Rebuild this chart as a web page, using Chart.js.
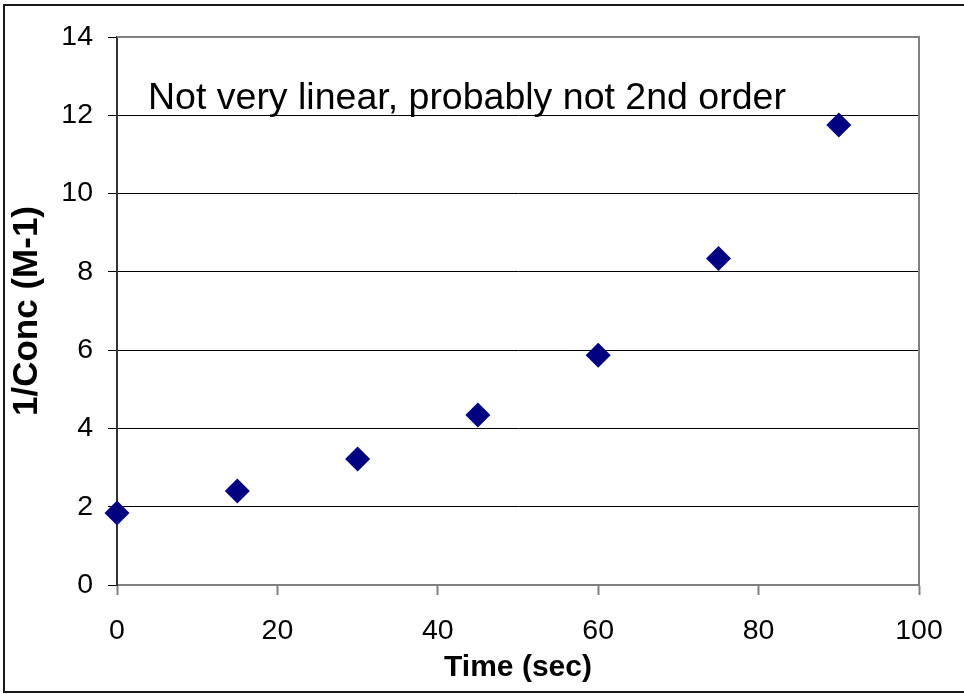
<!DOCTYPE html>
<html>
<head>
<meta charset="utf-8">
<script src="https://cdn.jsdelivr.net/npm/chart.js@4/dist/chart.umd.min.js"></script>
<style>
  html, body { margin: 0; padding: 0; background: #fff; }
  #wrap { width: 964px; height: 694px; }
</style>
</head>
<body>
<div id="wrap"><canvas id="chart" width="964" height="694"></canvas></div>
<script>
const times = [0, 15, 30, 45, 60, 75, 90];
const invConc = [1.84, 2.40, 3.22, 4.34, 5.87, 8.34, 11.75];
const xTitle = "Time (sec)";
const yTitle = "1/Conc (M-1)";
const note = "Not very linear, probably not 2nd order";

const FONT = "'Liberation Sans', Arial, sans-serif";

// white page, outer frame, gray plot border and the note text
const frame = {
  id: "frame",
  beforeDraw(chart) {
    const ctx = chart.ctx;
    ctx.save();
    ctx.fillStyle = "#fff";
    ctx.fillRect(0, 0, chart.width, chart.height);
    ctx.strokeStyle = "#1a1a1a";
    ctx.lineWidth = 2;
    ctx.strokeRect(4, 5, chart.width, 687);
    ctx.restore();
  },
  beforeDatasetsDraw(chart) {
    const { ctx, chartArea: a } = chart;
    ctx.save();
    ctx.strokeStyle = "#808080";
    ctx.lineWidth = 2;
    ctx.beginPath();
    ctx.moveTo(a.left, a.top);
    ctx.lineTo(a.right, a.top);
    ctx.lineTo(a.right, a.bottom);
    ctx.stroke();
    ctx.fillStyle = "#000";
    ctx.font = "37.5px " + FONT;
    ctx.textBaseline = "alphabetic";
    ctx.fillText(note, 148, 109);
    ctx.restore();
  }
};

new Chart(document.getElementById("chart"), {
  type: "scatter",
  data: {
    datasets: [{
      data: times.map((t, i) => ({ x: t, y: invConc[i] })),
      pointStyle: "rectRot",
      radius: 12.5,
      hoverRadius: 12.5,
      backgroundColor: "#000080",
      borderColor: "#000080",
      borderWidth: 0,
      clip: false
    }]
  },
  options: {
    responsive: false,
    animation: false,
    layout: { padding: { top: 37, right: 45, left: 0, bottom: 0 } },
    plugins: {
      legend: { display: false },
      tooltip: { enabled: false }
    },
    scales: {
      x: {
        type: "linear",
        min: 0,
        max: 100,
        afterFit: (s) => { s.height = 109; },
        ticks: {
          stepSize: 20,
          color: "#000",
          padding: 19,
          font: { family: FONT, size: 28.5 }
        },
        grid: {
          drawOnChartArea: false,
          drawTicks: true,
          tickLength: 10,
          tickColor: "#808080",
          tickWidth: 2
        },
        border: { color: "#808080", width: 2 },
        title: {
          display: true,
          text: xTitle,
          color: "#000",
          padding: { top: 0, bottom: 8 },
          font: { family: FONT, size: 30, weight: "bold" }
        }
      },
      y: {
        min: 0,
        max: 14,
        afterFit: (s) => { s.width = 117; },
        ticks: {
          stepSize: 2,
          color: "#000",
          padding: 15,
          font: { family: FONT, size: 28.5 }
        },
        grid: {
          color: "#000",
          lineWidth: 1,
          tickLength: 9,
          tickColor: "#000"
        },
        border: { color: "#333", width: 2 },
        title: {
          display: true,
          text: yTitle,
          color: "#000",
          padding: { top: 6, bottom: 0 },
          font: { family: FONT, size: 35, weight: "bold" }
        }
      }
    }
  },
  plugins: [frame]
});
</script>
</body>
</html>
